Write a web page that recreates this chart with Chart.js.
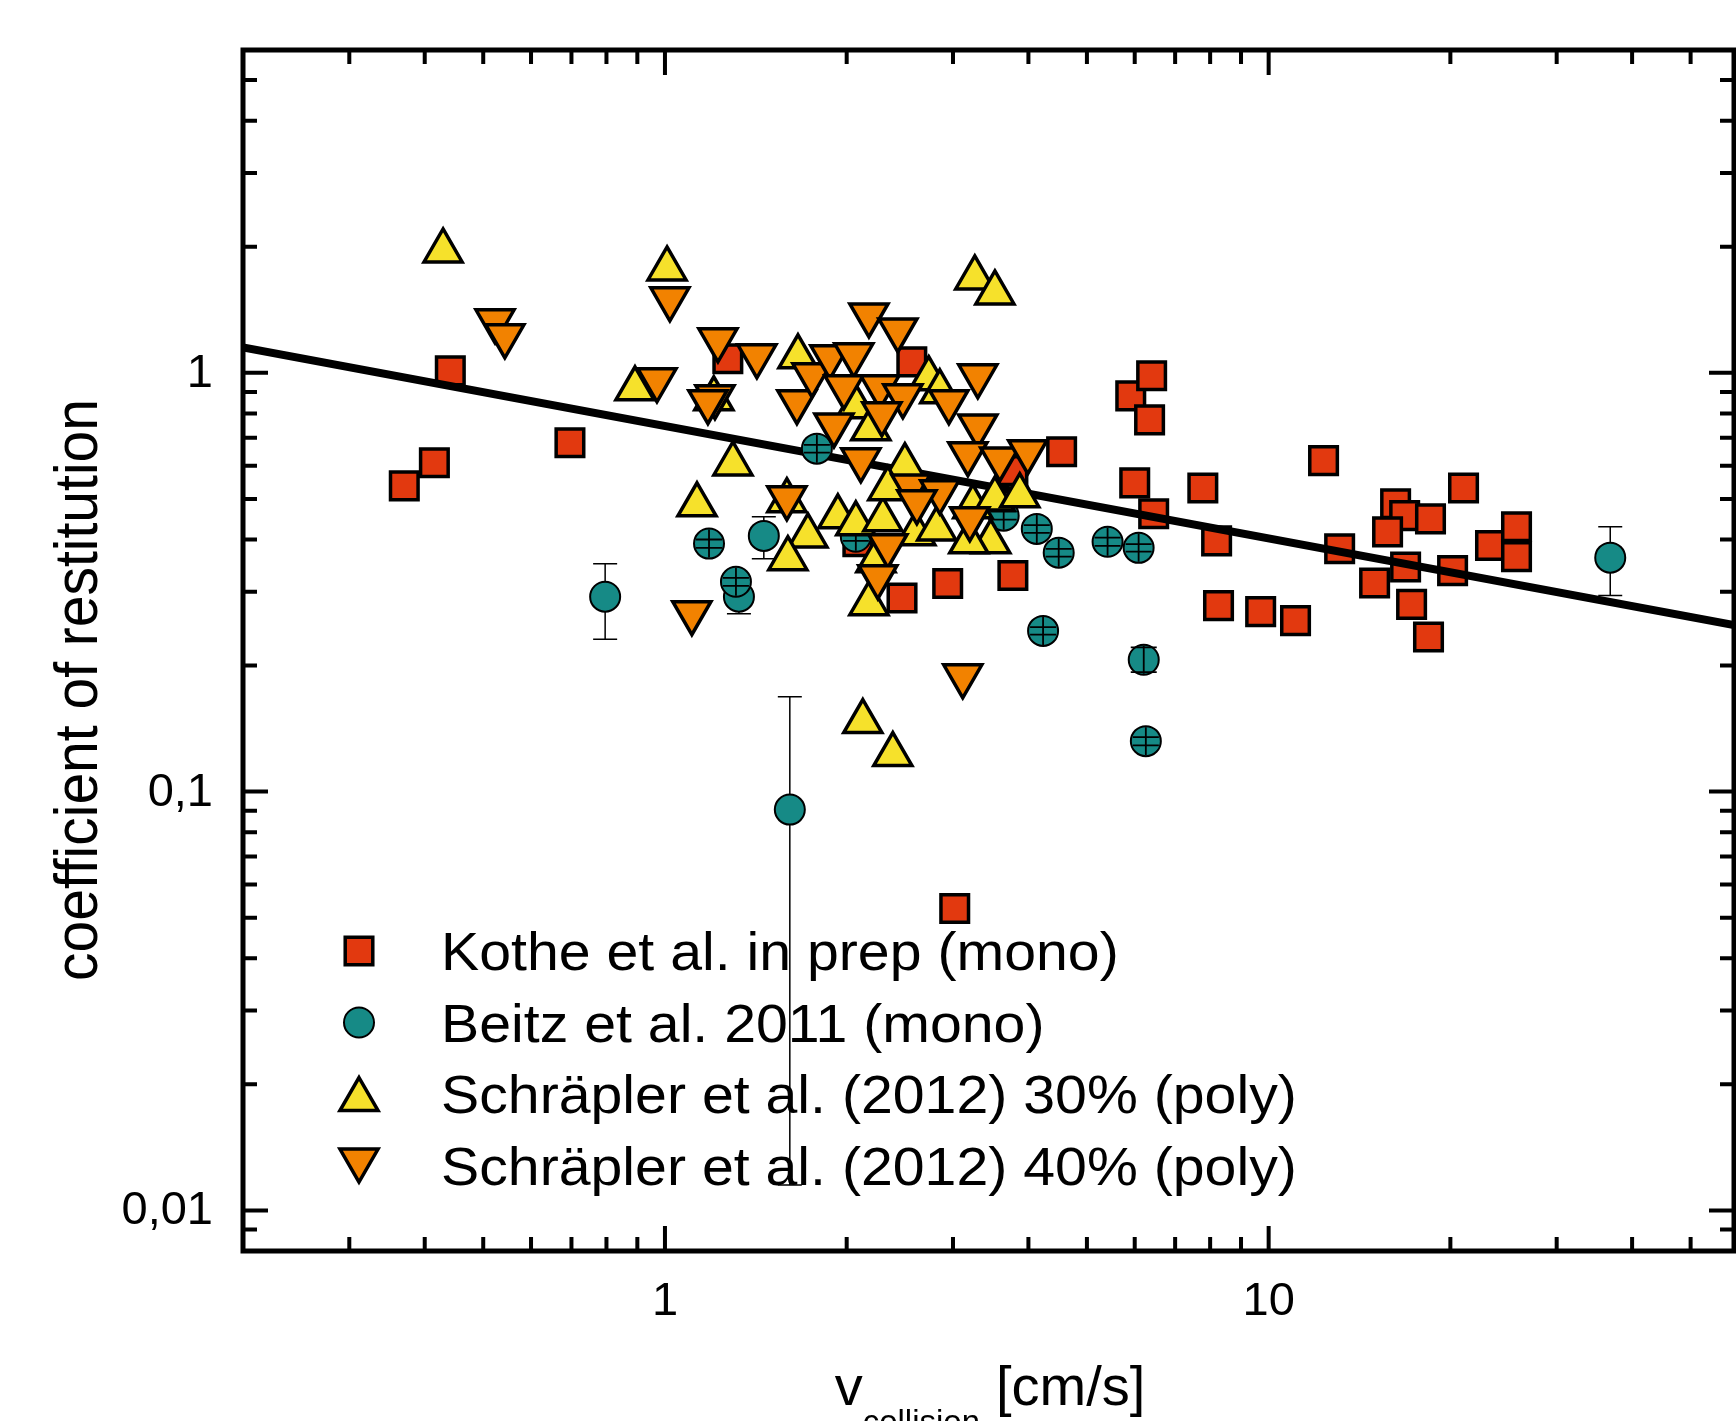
<!DOCTYPE html>
<html>
<head>
<meta charset="utf-8">
<title>coefficient of restitution</title>
<script src="https://cdn.jsdelivr.net/npm/chart.js@4.4.1/dist/chart.umd.min.js"></script>
<style>
  html, body { margin: 0; padding: 0; background: #fff; overflow: hidden; }
  #box { position: relative; width: 1736px; height: 1421px; }
  #myChart { display: block; }
</style>
</head>
<body>
<div id="box"><canvas id="myChart"></canvas></div>
<script>
const FONT = "'Liberation Sans', Arial, sans-serif";

const seriesNames = ['Kothe et al. in prep (mono)', 'Beitz et al. 2011 (mono)',
    'Schräpler et al. (2012) 30% (poly)', 'Schräpler et al. (2012) 40% (poly)'];

/* axis ranges and ticks */
const X_MIN = 0.2, X_MAX = 59;
const Y_MIN = 0.008, Y_MAX = 5.9;
const xMajor = [1, 10];
const xLabels = ['1', '10'];
const xMinor = [0.3, 0.4, 0.5, 0.6, 0.7, 0.8, 0.9, 2, 3, 4, 5, 6, 7, 8, 9, 20, 30, 40, 50];
const yMajor = [0.01, 0.1, 1];
const yLabels = ['0,01', '0,1', '1'];
const yMinor = [0.009, 0.02, 0.03, 0.04, 0.05, 0.06, 0.07, 0.08, 0.09,
    0.2, 0.3, 0.4, 0.5, 0.6, 0.7, 0.8, 0.9, 2, 3, 4, 5];

/* Kothe et al. in prep (red squares) */
const kotheV = [0.370, 0.415, 0.441, 0.696, 1.271, 2.564, 4.54, 5.91, 6.40, 6.35, 6.00, 6.45, 7.78, 8.20,
    12.33, 8.26, 9.70, 11.08, 13.11, 14.98, 16.23, 16.80, 15.74, 18.54, 16.86, 17.25, 18.40, 21.03,
    20.17, 23.31, 25.74, 25.74, 2.087, 2.47, 2.94, 3.77, 3.02, 3.77];
const kotheE = [0.537, 0.610, 1.011, 0.681, 1.080, 1.062, 0.648, 0.881, 0.984, 0.772, 0.546, 0.461, 0.531, 0.397,
    0.617, 0.278, 0.269, 0.256, 0.380, 0.315, 0.487, 0.456, 0.417, 0.448, 0.344, 0.280, 0.234, 0.531,
    0.337, 0.387, 0.429, 0.364, 0.395, 0.290, 0.314, 0.328, 0.0526, 0.584];

/* Beitz et al. 2011 (teal circles) with error bars */
const beitzV = [0.796, 1.183, 1.458, 1.326, 1.311, 1.785, 2.071, 3.64, 4.13, 4.49, 5.41, 6.09, 4.23, 6.21, 6.26, 1.61, 36.8];
const beitzE = [0.292, 0.391, 0.408, 0.292, 0.317, 0.659, 0.406, 0.456, 0.424, 0.372, 0.395, 0.382, 0.242, 0.2065, 0.132, 0.0906, 0.362];
const beitzHi = [0.350, 0.400, 0.453, 0.321, 0.324, 0.673, 0.415, 0.466, 0.433, 0.380, 0.404, 0.390, 0.247, 0.221, 0.135, 0.1685, 0.429];
const beitzLo = [0.231, 0.382, 0.360, 0.266, 0.310, 0.645, 0.397, 0.446, 0.415, 0.364, 0.386, 0.374, 0.237, 0.193, 0.129, 0.0115, 0.294];

/* Schräpler et al. 2012, 30% (yellow up triangles) */
const yellowV = [0.429, 1.008, 3.26, 3.52, 0.892, 1.205, 1.661, 2.071, 2.735, 2.853, 2.193, 1.296, 1.130, 1.592,
    1.725, 1.598, 1.934, 2.071, 2.296, 2.236, 2.177, 2.497, 2.340, 2.603, 2.820, 3.236, 3.52, 3.870,
    3.465, 3.187, 2.127, 2.385];
const yellowE = [1.955, 1.771, 1.685, 1.552, 0.916, 0.867, 1.092, 0.830, 0.968, 0.901, 0.735, 0.606, 0.484, 0.495,
    0.408, 0.360, 0.453, 0.436, 0.446, 0.356, 0.281, 0.600, 0.529, 0.413, 0.424, 0.479, 0.500, 0.509,
    0.395, 0.395, 0.147, 0.1226];

/* Schräpler et al. 2012, 40% (orange down triangles) */
const orangeV = [0.523, 0.543, 1.019, 1.224, 0.970, 1.210, 1.178, 1.420, 1.108, 1.592, 1.654, 1.752, 1.876, 2.055,
    1.979, 1.905, 2.177, 2.431, 2.111, 2.270, 2.478, 2.287, 3.298, 2.953, 3.298, 3.175, 3.586, 3.990,
    2.555, 2.853, 2.614, 3.199, 2.340, 2.252, 3.114];
const orangeE = [1.331, 1.226, 1.502, 1.199, 0.962, 0.877, 0.853, 1.098, 0.2675, 0.503, 0.853, 0.989, 1.092, 1.104,
    0.926, 0.751, 1.375, 1.266, 0.620, 0.926, 0.881, 0.798, 0.984, 0.853, 0.747, 0.641, 0.623, 0.648,
    0.537, 0.520, 0.492, 0.448, 0.3865, 0.326, 0.189];

/* power-law fit, read at the two plot edges */
const fitV = [0.2, 59];
const fitE = [1.15, 0.25];

const pts = (xs, ys) => xs.map((v, i) => ({ x: v, y: ys[i] }));

/* error bars of the Beitz set: big ones behind the circles, tiny ones on top */
function drawErrorBars(chart, onTop) {
    const ctx = chart.ctx, x = chart.scales.x, y = chart.scales.y;
    const r = 15;
    ctx.save();
    ctx.strokeStyle = '#000';
    beitzV.forEach((v, i) => {
        const px = x.getPixelForValue(v);
        const py = y.getPixelForValue(beitzE[i]);
        const top = y.getPixelForValue(beitzHi[i]);
        const bot = y.getPixelForValue(beitzLo[i]);
        const small = bot - top < 2 * r;
        if (small !== onTop) return;
        const cap = small ? 13 : 12;
        ctx.lineWidth = small ? 1.8 : 1.5;
        ctx.beginPath();
        if (small) {
            ctx.moveTo(px, py - r + 1);
            ctx.lineTo(px, py + r - 1);
        } else {
            ctx.moveTo(px, top);
            ctx.lineTo(px, bot);
        }
        ctx.moveTo(px - cap, top); ctx.lineTo(px + cap, top);
        ctx.moveTo(px - cap, bot); ctx.lineTo(px + cap, bot);
        ctx.stroke();
    });
    ctx.restore();
}

const errorBars = {
    id: 'errorBars',
    beforeDatasetDraw(chart, args) { if (args.index === 2) drawErrorBars(chart, false); },
    afterDatasetDraw(chart, args) { if (args.index === 2) drawErrorBars(chart, true); }
};

/* box with inward ticks on all four sides, and tick labels */
const frame = {
    id: 'frame',
    afterDatasetsDraw(chart) {
        const { ctx, chartArea: a } = chart;
        const x = chart.scales.x, y = chart.scales.y;
        ctx.save();
        ctx.strokeStyle = '#000';
        const xt = (vals, len, w) => {
            ctx.lineWidth = w;
            ctx.beginPath();
            vals.forEach(v => {
                const p = x.getPixelForValue(v);
                ctx.moveTo(p, a.bottom); ctx.lineTo(p, a.bottom - len);
                ctx.moveTo(p, a.top); ctx.lineTo(p, a.top + len);
            });
            ctx.stroke();
        };
        const yt = (vals, len, w) => {
            ctx.lineWidth = w;
            ctx.beginPath();
            vals.forEach(v => {
                const p = y.getPixelForValue(v);
                ctx.moveTo(a.left, p); ctx.lineTo(a.left + len, p);
                ctx.moveTo(a.right, p); ctx.lineTo(a.right - len, p);
            });
            ctx.stroke();
        };
        xt(xMinor, 14, 4);
        xt(xMajor, 25, 4);
        yt(yMinor, 14, 4);
        yt(yMajor, 25, 4);
        ctx.lineWidth = 5;
        ctx.strokeRect(a.left, a.top, a.right - a.left, a.bottom - a.top);

        ctx.fillStyle = '#000';
        ctx.font = '47px ' + FONT;
        ctx.textAlign = 'center';
        ctx.textBaseline = 'alphabetic';
        xMajor.forEach((v, i) => ctx.fillText(xLabels[i], x.getPixelForValue(v), a.bottom + 64));
        ctx.textAlign = 'right';
        ctx.textBaseline = 'middle';
        yMajor.forEach((v, i) => ctx.fillText(yLabels[i], a.left - 30, y.getPixelForValue(v) + 1));
        ctx.restore();
    }
};

function stretchedText(ctx, text, x, y, sx) {
    ctx.save();
    ctx.translate(x, y);
    ctx.scale(sx, 1);
    ctx.fillText(text, 0, 0);
    ctx.restore();
}

/* legend in the lower left of the plot, and the two axis titles */
const annotations = {
    id: 'annotations',
    afterDraw(chart) {
        const ctx = chart.ctx;
        const rows = [4, 2, 1, 0];
        ctx.save();
        rows.forEach((di, row) => {
            const ds = chart.data.datasets[di];
            const cy = 951 + row * 71.5;
            let my = cy;
            if (ds.pointStyle === 'triangle') my += (ds.pointRotation ? -1 : 1) * ds.pointRadius / 4;
            ctx.fillStyle = ds.backgroundColor;
            ctx.strokeStyle = ds.borderColor;
            ctx.lineWidth = ds.borderWidth;
            Chart.helpers.drawPoint(ctx, {
                pointStyle: ds.pointStyle, rotation: ds.pointRotation || 0,
                radius: ds.pointRadius, borderWidth: ds.borderWidth
            }, 359, my);
            ctx.fillStyle = '#000';
            ctx.font = '54px ' + FONT;
            ctx.textAlign = 'left';
            ctx.textBaseline = 'alphabetic';
            stretchedText(ctx, ds.label, 441, cy + 19, 1.06);
        });

        // y title
        ctx.fillStyle = '#000';
        ctx.font = '57px ' + FONT;
        ctx.save();
        ctx.translate(97, 690);
        ctx.rotate(-Math.PI / 2);
        ctx.scale(1, 1.08);
        ctx.textAlign = 'center';
        ctx.textBaseline = 'alphabetic';
        ctx.fillText('coefficient of restitution', 0, 0);
        ctx.restore();

        // x title: v_collision [cm/s]
        ctx.textAlign = 'left';
        ctx.textBaseline = 'alphabetic';
        ctx.font = '56px ' + FONT;
        const wv = ctx.measureText('v').width;
        const wu = ctx.measureText('[cm/s]').width;
        ctx.font = '33px ' + FONT;
        const ws = ctx.measureText('collision').width;
        const gap = 16;
        const x0 = 990 - (wv + ws + gap + wu) / 2;
        ctx.font = '56px ' + FONT;
        ctx.fillText('v', x0, 1405);
        ctx.fillText('[cm/s]', x0 + wv + ws + gap, 1405);
        ctx.font = '33px ' + FONT;
        ctx.fillText('collision', x0 + wv, 1433);
        ctx.restore();
    }
};

const ctx1 = document.getElementById('myChart').getContext('2d');
const myChart = new Chart(ctx1, {
    type: 'scatter',
    data: {
        datasets: [
            {
                label: seriesNames[3],
                data: pts(orangeV, orangeE),
                pointStyle: 'triangle',
                pointRotation: 180,
                pointRadius: 22,
                backgroundColor: '#F28200',
                borderColor: '#000',
                borderWidth: 3.5,
                order: 1
            },
            {
                label: seriesNames[2],
                data: pts(yellowV, yellowE),
                pointStyle: 'triangle',
                pointRadius: 22,
                backgroundColor: '#F6E12B',
                borderColor: '#000',
                borderWidth: 3.5,
                order: 2
            },
            {
                label: seriesNames[1],
                data: pts(beitzV, beitzE),
                pointStyle: 'circle',
                pointRadius: 15,
                backgroundColor: '#168A86',
                borderColor: '#000',
                borderWidth: 2,
                order: 3
            },
            {
                label: 'fit',
                data: pts(fitV, fitE),
                showLine: true,
                pointRadius: 0,
                borderColor: '#000',
                borderWidth: 8,
                order: 4
            },
            {
                label: seriesNames[0],
                data: pts(kotheV, kotheE),
                pointStyle: 'rect',
                pointRadius: 19.5,
                backgroundColor: '#E2390F',
                borderColor: '#000',
                borderWidth: 3.5,
                order: 5
            }
        ]
    },
    options: {
        responsive: true,
        maintainAspectRatio: false,
        animation: false,
        events: [],
        devicePixelRatio: 1,
        layout: {
            autoPadding: false,
            padding: { left: 243, top: 50, right: 2, bottom: 170 }
        },
        plugins: {
            legend: { display: false },
            tooltip: { enabled: false }
        },
        scales: {
            x: {
                type: 'logarithmic',
                display: false,
                min: X_MIN,
                max: X_MAX
            },
            y: {
                type: 'logarithmic',
                display: false,
                min: Y_MIN,
                max: Y_MAX
            }
        }
    },
    plugins: [errorBars, frame, annotations]
});
</script>
</body>
</html>
